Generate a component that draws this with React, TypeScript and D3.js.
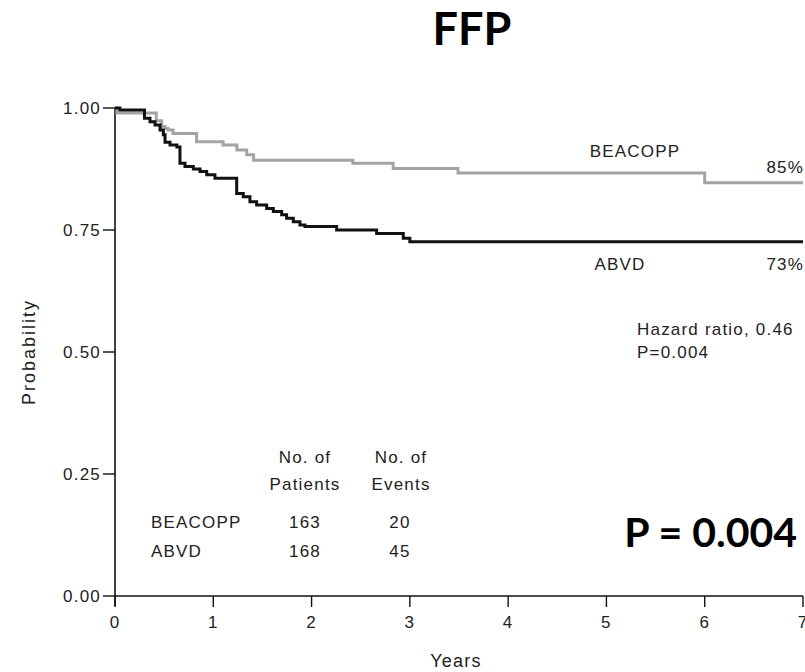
import React from "react";
import * as d3 from "d3";

const xTicks = [0, 1, 2, 3, 4, 5, 6, 7];
const yTicks = [0, 0.25, 0.5, 0.75, 1.0];

const beacoppTimes = [0, 0.02, 0.42, 0.475, 0.51, 0.54, 0.59, 0.83, 1.1, 1.24, 1.34, 1.41, 2.42, 2.83, 3.49, 6.0, 7.0];
const beacoppSurv = [1.0, 0.99, 0.974, 0.962, 0.958, 0.955, 0.948, 0.931, 0.924, 0.914, 0.904, 0.893, 0.887, 0.876, 0.867, 0.847, 0.847];

const abvdTimes = [0, 0.05, 0.3, 0.356, 0.407, 0.458, 0.492, 0.509, 0.56, 0.63, 0.661, 0.712, 0.797, 0.865, 0.933, 1.017, 1.238, 1.305, 1.373, 1.441, 1.543, 1.611, 1.696, 1.746, 1.814, 1.882, 1.933, 2.255, 2.662, 2.933, 3.0, 7.0];
const abvdSurv = [1.0, 0.996, 0.979, 0.972, 0.965, 0.955, 0.945, 0.93, 0.924, 0.92, 0.887, 0.88, 0.875, 0.87, 0.863, 0.856, 0.825, 0.818, 0.808, 0.801, 0.794, 0.788, 0.781, 0.774, 0.767, 0.76, 0.757, 0.75, 0.743, 0.733, 0.726, 0.726];

const seriesNames = ["BEACOPP", "ABVD"];
const seriesFinal = ["85%", "73%"];
const nPatients = [163, 168];
const nEvents = [20, 45];

const title = "FFP";
const pBig = "P = 0.004";
const hazardLines = ["Hazard ratio, 0.46", "P=0.004"];

export default function App() {
  const W = 805;
  const H = 672;
  const x = d3.scaleLinear().domain([0, 7]).range([115, 803]);
  const y = d3.scaleLinear().domain([0, 1]).range([596, 108]);
  const fmt = d3.format(".2f");

  const line = d3
    .line<[number, number]>()
    .x((d) => x(d[0]))
    .y((d) => y(d[1]))
    .curve(d3.curveStepAfter);

  const bData: [number, number][] = beacoppTimes.map((t, i) => [t, beacoppSurv[i]]);
  const aData: [number, number][] = abvdTimes.map((t, i) => [t, abvdSurv[i]]);

  const small: React.CSSProperties = {
    fontFamily: "'Liberation Sans', Arial, sans-serif",
    fontSize: 17,
    letterSpacing: 1.2,
    fill: "#222",
  };

  return (
    <svg
      width={W}
      height={H}
      style={{ position: "absolute", left: 0, top: 0, background: "#fff" }}
    >
      <rect width={W} height={H} fill="#fff" />
      <text
        x={472}
        y={45}
        textAnchor="middle"
        style={{ fontFamily: "Lato, 'Open Sans', sans-serif", fontWeight: 700, fontSize: 45, fill: "#000" }}
      >
        {title}
      </text>

      {/* axes */}
      <line x1={x(0)} x2={x(0)} y1={y(1)} y2={y(0) + 10} stroke="#111" strokeWidth={1.6} />
      <line x1={x(0)} x2={x(7)} y1={y(0)} y2={y(0)} stroke="#111" strokeWidth={1.6} />
      {yTicks.map((t) => (
        <g key={"y" + t}>
          <line x1={x(0) - 12} x2={x(0)} y1={y(t)} y2={y(t)} stroke="#111" strokeWidth={1.4} />
          <text x={101} y={y(t)} dy="0.36em" textAnchor="end" style={small}>
            {fmt(t)}
          </text>
        </g>
      ))}
      {xTicks.map((t) => (
        <g key={"x" + t}>
          <line x1={x(t)} x2={x(t)} y1={y(0)} y2={y(0) + 11} stroke="#111" strokeWidth={1.4} />
          <text x={x(t)} y={628} textAnchor="middle" style={small}>
            {t}
          </text>
        </g>
      ))}
      <text x={456} y={667} textAnchor="middle" style={{ ...small, fontSize: 18 }}>
        Years
      </text>
      <text
        transform={`translate(35,352) rotate(-90)`}
        textAnchor="middle"
        style={{ ...small, fontSize: 18, letterSpacing: 2 }}
      >
        Probability
      </text>

      {/* curves */}
      <path d={line(bData) || ""} fill="none" stroke="#a3a3a3" strokeWidth={3} />
      <path d={line(aData) || ""} fill="none" stroke="#111" strokeWidth={3} />

      {/* curve labels */}
      <text x={635} y={157} textAnchor="middle" style={small}>
        {seriesNames[0]}
      </text>
      <text x={804} y={173} textAnchor="end" style={small}>
        {seriesFinal[0]}
      </text>
      <text x={620} y={270} textAnchor="middle" style={small}>
        {seriesNames[1]}
      </text>
      <text x={804} y={270} textAnchor="end" style={small}>
        {seriesFinal[1]}
      </text>
      <text x={637} y={335} style={small}>
        {hazardLines[0]}
      </text>
      <text x={637} y={358} style={small}>
        {hazardLines[1]}
      </text>

      {/* table */}
      <text x={305} y={463} textAnchor="middle" style={small}>No. of</text>
      <text x={305} y={490} textAnchor="middle" style={small}>Patients</text>
      <text x={401} y={463} textAnchor="middle" style={small}>No. of</text>
      <text x={401} y={490} textAnchor="middle" style={small}>Events</text>
      {seriesNames.map((n, i) => (
        <g key={n}>
          <text x={151} y={528 + i * 29} style={small}>{n}</text>
          <text x={305} y={528 + i * 29} textAnchor="middle" style={small}>{nPatients[i]}</text>
          <text x={400} y={528 + i * 29} textAnchor="middle" style={small}>{nEvents[i]}</text>
        </g>
      ))}

      <text
        x={797}
        y={547}
        textAnchor="end"
        style={{ fontFamily: "Lato, 'Open Sans', sans-serif", fontWeight: 700, fontSize: 41, fill: "#000" }}
      >
        {pBig}
      </text>
    </svg>
  );
}
